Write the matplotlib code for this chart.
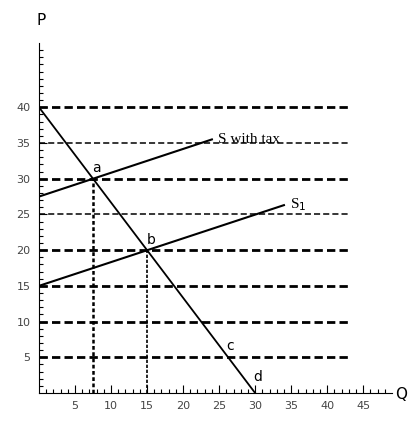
import numpy as np
import matplotlib
matplotlib.use("Agg")
import matplotlib.pyplot as plt

# demand and supply curves (Q, P)
demand_q = [0, 30]
demand_p = [40, 0]
s1_q = [0, 34]
s1_p = [15, 26.3]
stax_q = [0, 24]
stax_p = [27.5, 35.5]

# equilibrium points
pt_a = (7.5, 30)
pt_b = (15, 20)

grid_levels = [5, 10, 15, 20, 25, 30, 35, 40]
bold_levels = [5, 10, 15, 20, 30, 40]
x_ticks = [5, 10, 15, 20, 25, 30, 35, 40, 45]
y_ticks = [5, 10, 15, 20, 25, 30, 35, 40]

fig = plt.figure(figsize=(4.18, 4.22), dpi=100)
ax = fig.add_axes([39/418, 29/422, 353/418, 350/422])
ax.set_xlim(0, 49)
ax.set_ylim(0, 49)

for lv in grid_levels:
    if lv in bold_levels:
        ax.plot([0, 43], [lv, lv], color="black", lw=2.0, ls=(0, (3, 1.5)))
    else:
        ax.plot([0, 43], [lv, lv], color="black", lw=1.1, ls=(0, (4, 2)))

# dotted drop lines
ax.plot([pt_a[0], pt_a[0]], [0, pt_a[1]], color="black", lw=1.8, ls=(0, (1.5, 1)))
ax.plot([pt_b[0], pt_b[0]], [0, pt_b[1]], color="black", lw=1.2, ls=(0, (2, 1)))

ax.plot(demand_q, demand_p, color="black", lw=1.3)
ax.plot(s1_q, s1_p, color="black", lw=1.5)
ax.plot(stax_q, stax_p, color="black", lw=1.5)

ax.text(7.4, 31.0, "a", fontsize=10)
ax.text(15.0, 20.8, "b", fontsize=10)
ax.text(26.0, 6.0, "c", fontsize=10)
ax.text(29.8, 1.7, "d", fontsize=10)
ax.text(24.8, 35.0, "S with tax", fontsize=11, family="Liberation Serif")
ax.text(34.8, 25.8, "S$_1$", fontsize=11, family="Liberation Serif")

ax.text(0.3, 51.5, "P", fontsize=11, ha="center", clip_on=False)
ax.text(49.5, -0.9, "Q", fontsize=11, clip_on=False)

for side in ["top", "right"]:
    ax.spines[side].set_visible(False)
ax.spines["left"].set_linewidth(0.8)
ax.spines["bottom"].set_linewidth(0.8)

ax.set_xticks(x_ticks)
ax.set_yticks(y_ticks)
ax.set_xticks(np.arange(1, 49), minor=True)
ax.set_yticks(np.arange(1, 49), minor=True)
ax.tick_params(which="major", direction="in", length=6, width=0.8, labelsize=8,
               labelcolor="#444444", pad=6)
ax.tick_params(which="minor", direction="in", length=3, width=0.8)

fig.savefig("out.png", dpi=100)
